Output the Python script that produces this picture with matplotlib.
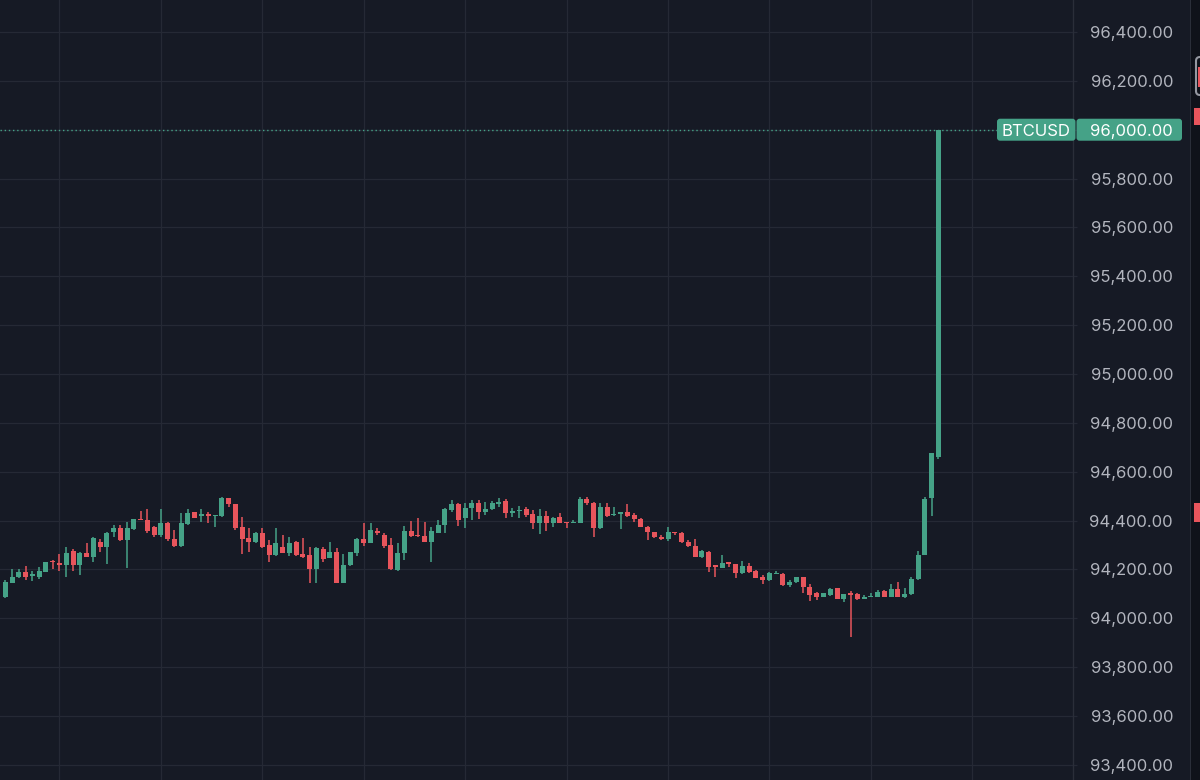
import matplotlib
matplotlib.use("Agg")
import matplotlib.pyplot as plt
import matplotlib.patches as mpatches
import matplotlib.transforms as mtransforms
import numpy as np

# BTCUSD candles, oldest first (open, high, low, close)
opens = [
    94089, 94146, 94168, 94188, 94173, 94170, 94191, 94234, 94228, 94218,
    94276, 94218, 94266, 94252, 94314, 94290, 94352, 94368, 94320, 94364,
    94406, 94402, 94375, 94341, 94391, 94323, 94296, 94385, 94434, 94420,
    94425, 94419, 94419, 94491, 94466, 94375, 94327, 94314, 94348, 94300,
    94259, 94290, 94266, 94314, 94263, 94259, 94200, 94284, 94246, 94273,
    94146, 94218, 94269, 94323, 94310, 94359, 94341, 94300, 94198, 94269,
    94359, 94341, 94337, 94314, 94350, 94382, 94443, 94468, 94409, 94450,
    94473, 94436, 94446, 94468, 94481, 94432, 94440, 94446, 94425, 94391,
    94419, 94391, 94413, 94395, 94389, 94391, 94487, 94473, 94368, 94454,
    94423, 94426, 94434, 94423, 94406, 94375, 94355, 94334, 94323, 94355,
    94348, 94314, 94297, 94252, 94273, 94218, 94207, 94229, 94222, 94184,
    94214, 94195, 94167, 94157, 94181, 94181, 94136, 94148, 94167, 94129,
    94102, 94088, 94095, 94122, 94079, 94102, 94099, 94077, 94086, 94086,
    94111, 94088, 94118, 94088, 94099, 94159, 94260, 94491, 94662,
]
highs = [
    94155, 94200, 94200, 94214, 94195, 94211, 94232, 94239, 94263, 94293,
    94284, 94273, 94307, 94331, 94323, 94355, 94382, 94382, 94393, 94405,
    94440, 94446, 94378, 94446, 94395, 94361, 94429, 94446, 94436, 94446,
    94436, 94423, 94495, 94491, 94468, 94414, 94368, 94355, 94368, 94320,
    94368, 94341, 94331, 94318, 94327, 94293, 94293, 94293, 94314, 94286,
    94263, 94273, 94327, 94389, 94391, 94368, 94350, 94327, 94307, 94378,
    94400, 94409, 94395, 94375, 94402, 94450, 94484, 94470, 94470, 94484,
    94484, 94477, 94481, 94491, 94487, 94450, 94460, 94454, 94443, 94446,
    94440, 94413, 94430, 94395, 94402, 94495, 94495, 94477, 94470, 94470,
    94454, 94436, 94468, 94432, 94409, 94378, 94355, 94341, 94375, 94355,
    94355, 94320, 94323, 94280, 94276, 94218, 94259, 94229, 94222, 94236,
    94225, 94197, 94177, 94191, 94193, 94184, 94157, 94170, 94170, 94140,
    94109, 94105, 94122, 94122, 94099, 94113, 94102, 94095, 94102, 94116,
    94116, 94140, 94150, 94122, 94170, 94277, 94496, 94678, 96000,
]
lows = [
    94082, 94143, 94164, 94157, 94154, 94161, 94188, 94200, 94195, 94170,
    94195, 94177, 94252, 94229, 94273, 94222, 94334, 94318, 94205, 94361,
    94402, 94350, 94334, 94331, 94316, 94293, 94293, 94382, 94409, 94395,
    94389, 94372, 94416, 94457, 94361, 94263, 94273, 94307, 94286, 94232,
    94255, 94266, 94255, 94255, 94245, 94143, 94143, 94232, 94246, 94143,
    94143, 94215, 94255, 94296, 94307, 94341, 94286, 94198, 94195, 94239,
    94334, 94334, 94311, 94232, 94348, 94348, 94436, 94379, 94368, 94402,
    94405, 94423, 94443, 94457, 94409, 94416, 94409, 94413, 94364, 94345,
    94359, 94375, 94389, 94368, 94389, 94389, 94464, 94331, 94364, 94416,
    94419, 94364, 94416, 94395, 94372, 94320, 94327, 94320, 94318, 94341,
    94310, 94293, 94250, 94245, 94191, 94170, 94204, 94211, 94163, 94181,
    94187, 94163, 94140, 94154, 94180, 94132, 94129, 94143, 94105, 94072,
    94075, 94088, 94091, 94077, 94068, 93922, 94075, 94077, 94086, 94086,
    94086, 94086, 94086, 94081, 94095, 94156, 94258, 94419, 94651,
]
closes = [
    94150, 94170, 94191, 94170, 94180, 94195, 94229, 94229, 94217, 94269,
    94218, 94269, 94252, 94327, 94290, 94350, 94368, 94320, 94368, 94405,
    94402, 94359, 94341, 94389, 94323, 94296, 94389, 94432, 94412, 94425,
    94419, 94423, 94491, 94468, 94368, 94323, 94314, 94350, 94293, 94259,
    94310, 94269, 94310, 94259, 94252, 94200, 94286, 94243, 94273, 94146,
    94218, 94273, 94323, 94310, 94361, 94348, 94296, 94200, 94269, 94359,
    94337, 94337, 94314, 94359, 94382, 94446, 94468, 94402, 94450, 94470,
    94436, 94446, 94470, 94477, 94432, 94439, 94442, 94423, 94391, 94419,
    94391, 94409, 94391, 94389, 94395, 94487, 94470, 94368, 94457, 94419,
    94427, 94434, 94419, 94405, 94375, 94355, 94334, 94323, 94355, 94348,
    94314, 94296, 94252, 94276, 94211, 94211, 94227, 94222, 94184, 94214,
    94191, 94166, 94157, 94187, 94186, 94136, 94150, 94167, 94129, 94095,
    94088, 94102, 94120, 94079, 94099, 94095, 94077, 94086, 94091, 94109,
    94088, 94118, 94088, 94099, 94159, 94259, 94487, 94678, 96000,
]
symbol = "BTCUSD"
price_ticks = list(range(93400, 96401, 200))

BG = "#161a25"
GRID = "#252935"
TEXT = "#b2b5be"
UP = "#45a287"
DOWN = "#e8555c"
FONT = ["Inter", "DejaVu Sans"]

W, H = 1200, 780
fig = plt.figure(figsize=(W / 100, H / 100), dpi=100, facecolor=BG)
plot_right = 1073
ax = fig.add_axes([0, 0, plot_right / W, 1], facecolor=BG)

o = np.array(opens, dtype=float)
h = np.array(highs, dtype=float)
l = np.array(lows, dtype=float)
c = np.array(closes, dtype=float)
x = np.arange(len(o)) - 8
colors = np.where(c >= o, UP, DOWN)

ax.vlines(x, l, h, colors=colors, linewidth=1.1, zorder=3)
body = np.maximum(np.abs(c - o), 4)
ax.bar(x, body, bottom=np.minimum(o, c), width=0.74, color=colors,
       linewidth=0, zorder=4)

ax.set_xlim(-8.8, 149.9)
ax.set_ylim(93338, 96531)

ax.set_xticks(np.arange(0, 150, 15))
ax.set_yticks(price_ticks)
ax.set_yticklabels([f"{p:,.2f}" for p in price_ticks])
ax.grid(True, color=GRID, linewidth=0.9)
ax.set_axisbelow(True)
ax.tick_params(axis="x", length=0, labelbottom=False)
ax.yaxis.tick_right()
ax.tick_params(axis="y", length=3, width=0.9, color=GRID, pad=69,
               labelsize=12, labelcolor=TEXT)
for lab in ax.get_yticklabels():
    lab.set_horizontalalignment("right")
    lab.set_fontfamily(FONT)
for side in ["top", "left", "bottom"]:
    ax.spines[side].set_visible(False)
ax.spines["right"].set_color("#2a2e39")
ax.spines["right"].set_linewidth(1)

# last price line and label
last = c[-1]
ax.axhline(last, xmax=997 / plot_right, color=UP, linewidth=1,
           linestyle=(0, (1, 2)), zorder=2)

fig.canvas.draw()
_, y_last = ax.transData.transform((0, last))
ident = mtransforms.IdentityTransform()
for x0, x1 in [(997, 1075.5), (1076.5, 1182)]:
    fig.patches.append(mpatches.FancyBboxPatch(
        (x0, y_last - 11), x1 - x0, 22,
        boxstyle="round,pad=0,rounding_size=3", transform=ident,
        facecolor=UP, edgecolor="none", zorder=5))
fig.text(1036 / W, y_last / H, symbol, color="white", fontsize=12,
         family=FONT, ha="center", va="center_baseline", zorder=10)
fig.text(1173 / W, y_last / H, f"{last:,.2f}", color="white", fontsize=12,
         family=FONT, ha="right", va="center_baseline", zorder=10)

# cut-off side toolbar at the right edge
fig.patches.append(mpatches.Rectangle((1190, 0), 10, H, transform=ident,
                                      facecolor="#0f121a", edgecolor="none"))
fig.patches.append(mpatches.Rectangle((1190, 0), 1.2, H, transform=ident,
                                      facecolor="#2a2e39", edgecolor="none"))
fig.patches.append(mpatches.FancyBboxPatch(
    (1196, H - 95), 12, 38, boxstyle="round,pad=0,rounding_size=4",
    transform=ident, facecolor="#0f121a", edgecolor="#9598a1", linewidth=1.5))
fig.patches.append(mpatches.Rectangle((1198, H - 87), 4, 20, transform=ident,
                                      facecolor=DOWN, edgecolor="none"))
for y0, y1 in [(108, 125), (503, 522)]:
    fig.patches.append(mpatches.Rectangle((1194, H - y1), 8, y1 - y0,
                                          transform=ident, facecolor=DOWN,
                                          edgecolor="none"))

fig.savefig("out.png", dpi=100, facecolor=BG)
